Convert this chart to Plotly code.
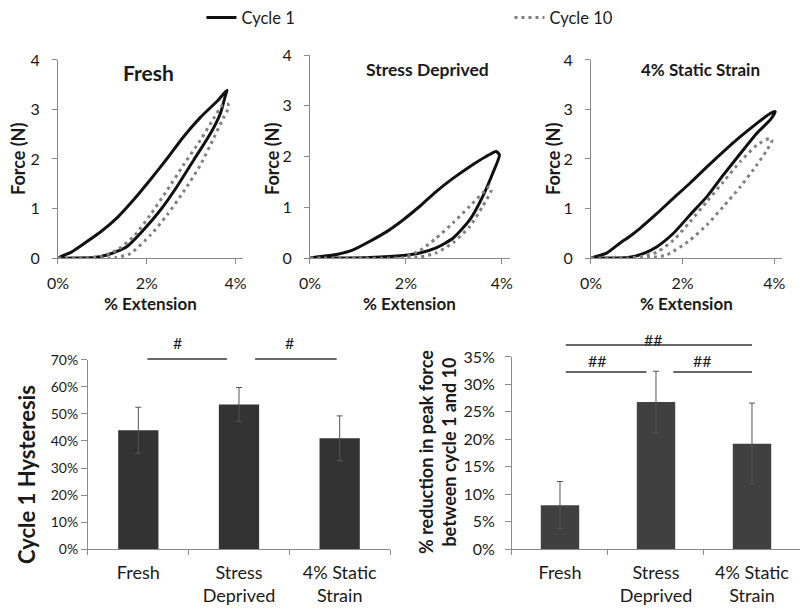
import plotly.graph_objects as go

# ---------------- data ----------------
# Panel 1: Fresh (x = % extension, y = force N)
fresh_c1_x = [0, 0.3, 0.6, 0.95, 1.33, 1.70, 2.08, 2.46, 2.83, 3.21, 3.59, 3.81,
              3.78, 3.66, 3.44, 3.06, 2.68, 2.31, 1.93, 1.55, 1.10, 0.8, 0.4, 0]
fresh_c1_y = [0, 0.12, 0.3, 0.52, 0.81, 1.17, 1.58, 2.01, 2.45, 2.84, 3.17, 3.39,
              3.30, 2.92, 2.52, 1.98, 1.44, 0.97, 0.57, 0.23, 0.06, 0.01, 0, 0]
fresh_c10_x = [0, 0.6, 1.0, 1.33, 1.70, 2.08, 2.46, 2.83, 3.21, 3.51, 3.70, 3.83,
               3.85, 3.74, 3.51, 3.21, 2.83, 2.46, 2.08, 1.63, 1.3, 1.0]
fresh_c10_y = [0, 0, 0.04, 0.16, 0.43, 0.87, 1.37, 1.88, 2.38, 2.82, 3.08, 3.11,
               3.05, 2.85, 2.42, 1.88, 1.34, 0.87, 0.46, 0.09, 0.01, 0]

# Panel 2: Stress Deprived
sd_c1_x = [0, 0.55, 0.9, 1.25, 1.6, 1.94, 2.29, 2.63, 2.98, 3.33, 3.67, 3.88,
           3.95, 3.81, 3.6, 3.33, 2.98, 2.63, 2.29, 1.94, 1.25, 0.5, 0]
sd_c1_y = [0, 0.07, 0.16, 0.33, 0.52, 0.75, 1.02, 1.31, 1.57, 1.8, 2.0, 2.1,
           2.03, 1.67, 1.21, 0.75, 0.39, 0.2, 0.1, 0.05, 0.01, 0, 0]
sd_c10_x = [0, 1.0, 1.94, 2.29, 2.63, 2.98, 3.33, 3.6, 3.74,
            3.78, 3.6, 3.33, 2.98, 2.63, 2.29, 1.9]
sd_c10_y = [0, 0, 0.01, 0.15, 0.39, 0.69, 1.02, 1.28, 1.41,
            1.34, 1.02, 0.62, 0.3, 0.1, 0.02, 0]

# Panel 3: 4% Static Strain
ss_c1_x = [0, 0.34, 0.63, 0.85, 1.07, 1.44, 1.80, 2.16, 2.53, 2.89, 3.26, 3.62, 3.91, 4.02,
           3.92, 3.62, 3.26, 2.89, 2.53, 2.16, 1.80, 1.44, 1.14, 0.8, 0.4, 0]
ss_c1_y = [0, 0.1, 0.3, 0.44, 0.6, 0.9, 1.21, 1.51, 1.84, 2.15, 2.45, 2.72, 2.92, 2.96,
           2.80, 2.52, 2.11, 1.68, 1.24, 0.87, 0.50, 0.23, 0.09, 0.01, 0, 0]
ss_c10_x = [0, 0.8, 1.1, 1.44, 1.80, 2.16, 2.53, 2.89, 3.26, 3.62, 3.91,
            3.95, 3.84, 3.62, 3.26, 2.89, 2.53, 2.16, 1.65, 1.3, 1.0]
ss_c10_y = [0, 0, 0.03, 0.12, 0.36, 0.73, 1.14, 1.54, 1.95, 2.28, 2.42,
            2.38, 2.18, 1.88, 1.44, 1.04, 0.67, 0.36, 0.06, 0.01, 0]

panel_titles = ["Fresh", "Stress Deprived", "4% Static Strain"]
ext_tickvals = [0, 2, 4]
ext_ticktext = ["0%", "2%", "4%"]
force_tickvals = [0, 1, 2, 3, 4]

# Bar charts
groups = ["Fresh", "Stress<br>Deprived", "4% Static<br>Strain"]
hysteresis = [0.44, 0.535, 0.41]
hysteresis_err = [0.085, 0.063, 0.083]
reduction = [0.08, 0.268, 0.192]
reduction_err = [0.043, 0.056, 0.074]

FONT = "Lato, 'Open Sans', sans-serif"
AXC = "#8a8a8a"
TXT = "#1a1a1a"

fig = go.Figure()

panels = [
    (fresh_c1_x, fresh_c1_y, fresh_c10_x, fresh_c10_y),
    (sd_c1_x, sd_c1_y, sd_c10_x, sd_c10_y),
    (ss_c1_x, ss_c1_y, ss_c10_x, ss_c10_y),
]
for i, (c1x, c1y, c10x, c10y) in enumerate(panels):
    ax = "" if i == 0 else str(i + 1)
    fig.add_trace(go.Scatter(x=c1x, y=c1y, mode="lines", name="Cycle 1",
                             line=dict(color="#111111", width=3, shape="spline", smoothing=0.6),
                             xaxis="x" + ax, yaxis="y" + ax, showlegend=(i == 0), legendrank=1))
    fig.add_trace(go.Scatter(x=c10x, y=c10y, mode="lines", name="Cycle 10",
                             line=dict(color="#808080", width=3, dash="3px,4px", shape="spline", smoothing=0.6),
                             xaxis="x" + ax, yaxis="y" + ax, showlegend=(i == 0), legendrank=2))

fig.add_trace(go.Bar(x=groups, y=hysteresis, width=0.4, marker=dict(color="#333333", line=dict(width=0)),
                     error_y=dict(type="data", array=hysteresis_err, color="#555555", thickness=1, width=3),
                     xaxis="x4", yaxis="y4", showlegend=False))
fig.add_trace(go.Bar(x=groups, y=reduction, width=0.4, marker=dict(color="#404040", line=dict(width=0)),
                     error_y=dict(type="data", array=reduction_err, color="#555555", thickness=1, width=3),
                     xaxis="x5", yaxis="y5", showlegend=False))


def tf(size):
    return dict(family=FONT, size=size, color=TXT)


line_ax = dict(showline=True, linecolor=AXC, linewidth=1, ticks="outside", tickcolor=AXC,
               ticklen=5, showgrid=False, zeroline=False, automargin=False)

xdoms = [[0.0723, 0.3030], [0.3865, 0.6359], [0.7369, 0.9751]]
ydoms = [[0.5784, 0.902], [0.5784, 0.9101], [0.5784, 0.902]]
layout = dict(
    width=802, height=612, autosize=False,
    margin=dict(l=0, r=0, t=0, b=0, pad=0, autoexpand=False),
    paper_bgcolor="white", plot_bgcolor="white",
    font=dict(family=FONT, color=TXT),
    showlegend=True,
    legend=dict(orientation="h", x=0.2512, xanchor="left", y=0.971, yanchor="middle",
                font=tf(16.5), entrywidth=263, bgcolor="rgba(0,0,0,0)", itemwidth=30),
)
for i in range(3):
    ax = "" if i == 0 else str(i + 1)
    layout["xaxis" + ax] = dict(line_ax, domain=xdoms[i], range=[0, 4.17], tickvals=ext_tickvals,
                                ticktext=ext_ticktext, anchor="y" + ax, ticklabelstandoff=6, tickfont=tf(16))
    layout["yaxis" + ax] = dict(line_ax, domain=ydoms[i], range=[0, 4], tickvals=force_tickvals,
                                anchor="x" + ax, ticklabelstandoff=9, tickfont=tf(16))

layout["xaxis4"] = dict(line_ax, domain=[0.1097, 0.4863], anchor="y4", tickson="boundaries",
                        ticklabelstandoff=7, type="category", tickfont=tf(18))
layout["yaxis4"] = dict(line_ax, domain=[0.1029, 0.4118], range=[0, 0.7], dtick=0.1,
                        tickformat=".0%", anchor="x4", ticklen=6, ticklabelstandoff=0, tickfont=tf(14))
layout["xaxis5"] = dict(line_ax, domain=[0.6384, 0.9975], anchor="y5", tickson="boundaries",
                        ticklabelstandoff=7, type="category", tickfont=tf(18))
layout["yaxis5"] = dict(line_ax, domain=[0.1029, 0.4167], range=[0, 0.35], dtick=0.05,
                        tickformat=".0%", anchor="x5", ticklen=6, ticklabelstandoff=7, tickfont=tf(16))

C = dict(xanchor="center", yanchor="middle", showarrow=False)
ann = []
title_sizes = [21, 17.5, 17]
title_pos = [(148, 72), (428, 69), (700, 69)]
for i in range(3):
    ax = "" if i == 0 else str(i + 1)
    ann.append(dict(C, text="<b>%s</b>" % panel_titles[i], x=title_pos[i][0] / 802, y=1 - title_pos[i][1] / 612,
                    xref="paper", yref="paper", font=tf(title_sizes[i])))
    ann.append(dict(C, text="<b>% Extension</b>", x=0.5, y=1 - 303.5 / 612, xref="x%s domain" % ax,
                    yref="paper", font=tf(17)))
force_x = [18, 272, 553]
for i in range(3):
    ann.append(dict(C, text="<b>Force (N)</b>", x=force_x[i] / 802, y=1 - 159 / 612, xref="paper", yref="paper",
                    textangle=-90, font=tf(18)))
ann.append(dict(C, text="<b>Cycle 1 Hysteresis</b>", x=26 / 802, y=1 - 475 / 612, xref="paper", yref="paper",
                textangle=-90, font=tf(22)))
ann.append(dict(C, text="<b>% reduction in peak force<br>between cycle 1 and 10</b>", x=437 / 802,
                y=1 - 452 / 612, xref="paper", yref="paper", textangle=-90, font=tf(18)))

# significance markers (category coordinates, y in paper)
sig_left = [(0.09, 0.88, 1 - 359 / 612, "#", 0.39, 1 - 342 / 612),
            (1.16, 1.97, 1 - 359 / 612, "#", 1.5, 1 - 342 / 612)]
sig_right = [(0.06, 2.0, 1 - 345 / 612, "##", 0.97, 1 - 339 / 612),
             (0.06, 0.9, 1 - 372 / 612, "##", 0.39, 1 - 360 / 612),
             (1.18, 2.0, 1 - 372 / 612, "##", 1.48, 1 - 360 / 612)]
shapes = []
for axn, sigs in (("x4", sig_left), ("x5", sig_right)):
    for x0, x1, yy, lab, tx, ty in sigs:
        shapes.append(dict(type="line", xref=axn, yref="paper", x0=x0, x1=x1, y0=yy, y1=yy,
                           line=dict(color="#333333", width=1.3)))
        ann.append(dict(C, text=lab, x=tx, y=ty, xref=axn, yref="paper", font=tf(16)))

layout["annotations"] = ann
layout["shapes"] = shapes
fig.update_layout(**layout)
fig.write_html("out.html", config={"displayModeBar": False},
               post_script="document.body.style.margin='0px';")
